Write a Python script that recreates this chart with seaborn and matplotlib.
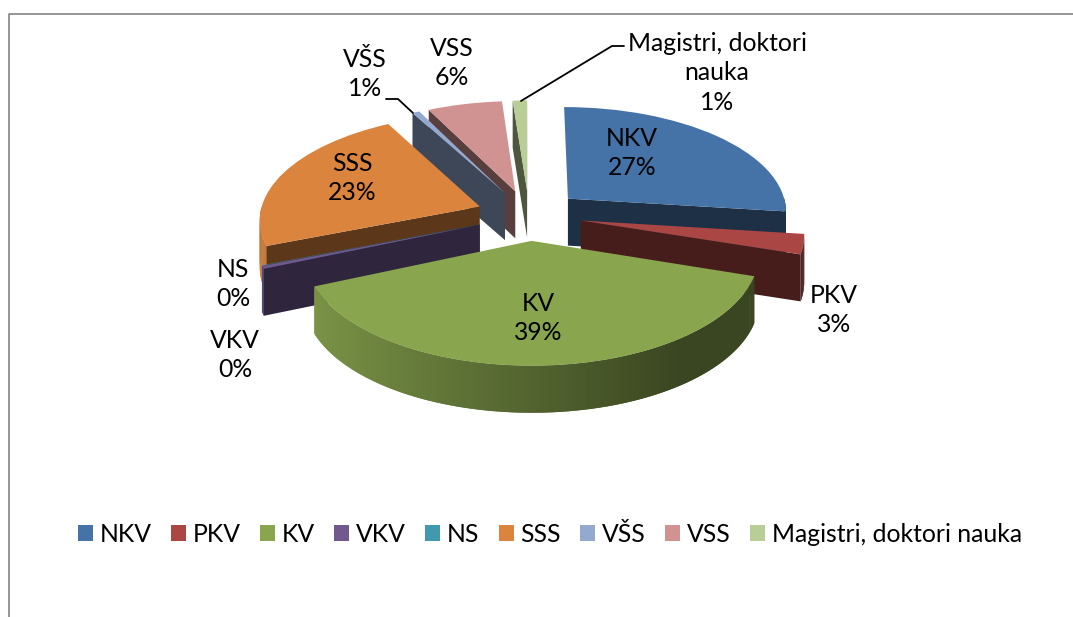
import numpy as np
import seaborn as sns
import matplotlib
matplotlib.use("Agg")
import matplotlib.pyplot as plt
from matplotlib.patches import Polygon
from matplotlib.transforms import Transform
from matplotlib.colors import to_rgb

categories = ["NKV", "PKV", "KV", "VKV", "NS", "SSS", "VŠS", "VSS", "Magistri, doktori nauka"]
values = [27.0, 3.0, 38.6, 0.4, 0.05, 23.0, 0.6, 6.2, 1.2]
colors = ["#4572A7", "#AA4643", "#89A54E", "#71588F", "#4198AF", "#DB843D", "#93A9CF", "#D19392", "#B9CD96"]
label_names = ["NKV", "PKV", "KV", "VKV", "NS", "SSS", "VŠS", "VSS", "Magistri, doktori\nnauka"]

sns.set_theme(style="white")
plt.rcParams["font.family"] = ["Lato", "DejaVu Sans"]
FS = 17.8

CX, CY, RX, RY, P, DEPTH = 529.0, 215.0, 220.0, 105.0, 0.11, 47.0


def project(xy):
    xy = np.asarray(xy, float)
    s = 1.0 / (1.0 + P * xy[..., 1])
    return np.stack([CX + RX * xy[..., 0] * s, CY - RY * xy[..., 1] * s], axis=-1)


class Tilt(Transform):
    input_dims = output_dims = 2
    is_separable = False
    has_inverse = False

    def transform_non_affine(self, values):
        return project(values)


def shade(color, f):
    return tuple(c * f for c in to_rgb(color))


fig = plt.figure(figsize=(10.73, 6.17), dpi=100)
ax = fig.add_axes([0, 0, 1, 1])
wedges, _ = ax.pie(values, colors=colors, startangle=90, counterclock=False,
                   explode=[0.24] * len(values), radius=1.0, wedgeprops=dict(linewidth=0))
ax.set_aspect("auto")
ax.set_xlim(0, 1073)
ax.set_ylim(617, 0)
ax.axis("off")

tilt = Tilt() + ax.transData
order = [8, 7, 6, 0, 5, 4, 3, 1, 2]


def wall(top, z, fc):
    top = np.asarray(top)
    low = top + [0, DEPTH]
    pts = np.vstack([top, low[::-1]])
    ax.add_patch(Polygon(pts, closed=True, fc=fc, ec="none", lw=0, zorder=z, clip_on=False))


for rank, idx in enumerate(order):
    w = wedges[idx]
    c = np.array(w.center)
    z = 2 + rank
    base = colors[idx]
    angles = np.linspace(w.theta1, w.theta2, max(int(w.theta2 - w.theta1) * 2, 2) + 1)
    step = angles[1] - angles[0]
    # painted from the right end of the arc leftwards, each strip overlapping the last
    for a0, a1 in zip(angles[:-1][::-1], angles[1:][::-1]):
        am = np.radians((a0 + a1) / 2)
        if np.sin(am) < 0:
            f = np.interp(np.cos(am), [-0.95, 0.0, 0.6, 1.0], [0.9, 0.6, 0.42, 0.42])
            seg = np.array([c + w.r * np.array([np.cos(np.radians(a)), np.sin(np.radians(a))])
                            for a in np.linspace(a0, min(a1 + step, w.theta2), 3)])
            wall(project(seg), z, shade(base, f))
    for th, nrm in ((w.theta1, w.theta1 - 90), (w.theta2, w.theta2 + 90)):
        if np.sin(np.radians(nrm)) < 0:
            t = np.radians(th)
            edge = np.array([c, c + w.r * np.array([np.cos(t), np.sin(t)])])
            wall(project(edge), z, shade(base, 0.42))
    w.set_transform(tilt)
    w.set_zorder(z + 0.5)
    w.set_clip_on(False)

total = sum(values)
label_pos = [(632, 153), (834, 310), (538, 318), (235, 355), (233, 284),
             (352, 178), (365, 74), (452, 63), (717, 73)]
for name, v, (x, y) in zip(label_names, values, label_pos):
    ax.text(x, y, f"{name}\n{v / total * 100:.0f}%", ha="center", va="center",
            fontsize=FS, color="black", linespacing=1.35, zorder=30)

ax.plot([386, 398, 413], [99, 99, 113], color="black", lw=1.3, zorder=31, solid_joinstyle="miter")
ax.plot([521, 612, 624], [101, 46, 46], color="black", lw=1.3, zorder=31, solid_joinstyle="miter")
ax.plot([9, 9, 1073], [617, 14, 14], color="#8c8c8c", lw=1.3, zorder=1, clip_on=False)

leg = ax.legend(wedges, categories, ncol=9, loc="center", bbox_to_anchor=(550 / 1073, 1 - 534 / 617),
                frameon=False, fontsize=FS, handlelength=0.6, handleheight=0.6,
                handletextpad=0.28, columnspacing=0.78, borderpad=0)
for t in leg.get_texts():
    t.set_color("black")

fig.savefig("out.png", dpi=100)
